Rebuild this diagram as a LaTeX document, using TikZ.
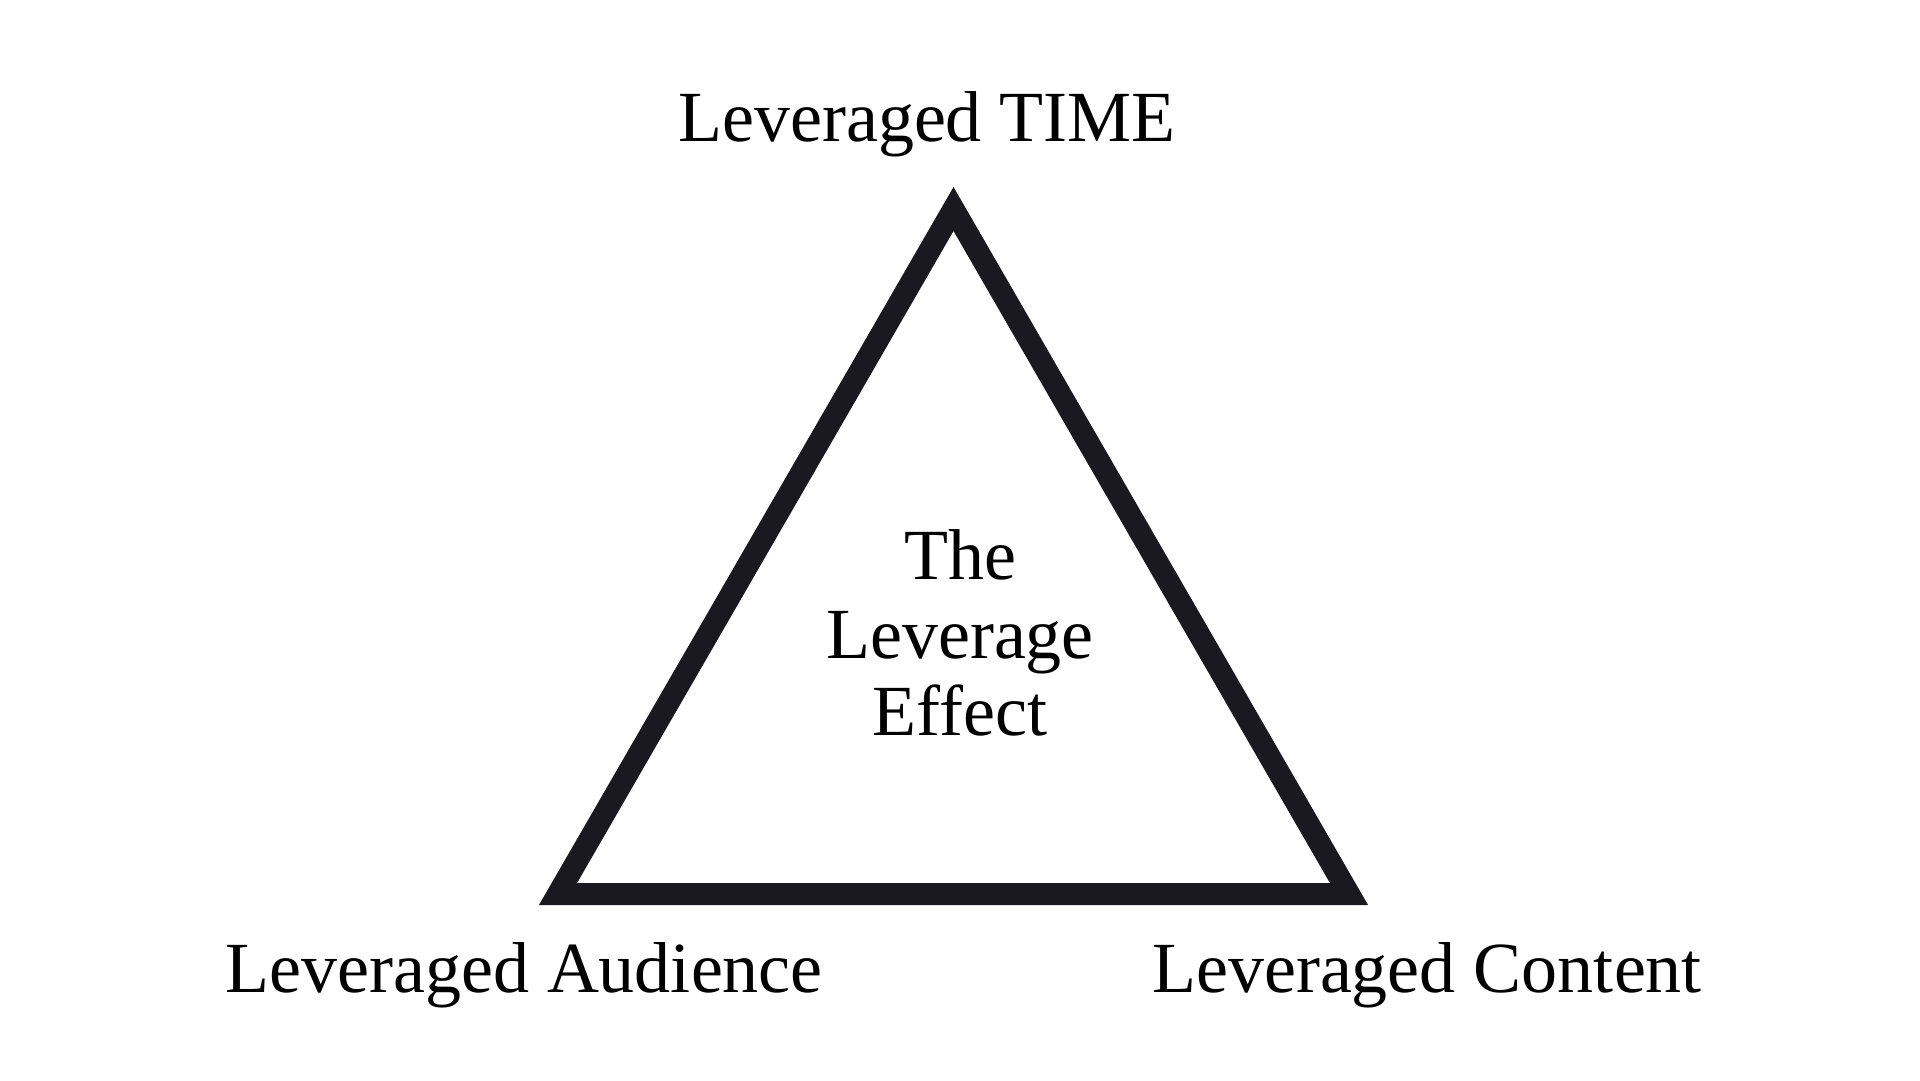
\documentclass[tikz,border=0pt]{standalone}
\usepackage{fontspec}
\setmainfont{Liberation Serif}
\definecolor{triink}{RGB}{26,24,32}
\begin{document}
\begin{tikzpicture}[x=1pt,y=-1pt,
  lbl/.style={font=\fontsize{72}{77}\selectfont, inner sep=0pt, anchor=base, text=black},
  tri/.style={draw=triink, line width=22pt, line join=miter}]
\useasboundingbox (0,0) rectangle (1920,1080);
\fill[white] (0,0) rectangle (1920,1080);
\coordinate (A) at (953.5,209);
\coordinate (B) at (558,894);
\coordinate (C) at (1349,894);
\draw[tri] (A) -- (B) -- (C) -- cycle;
\node[lbl] (top) at (927,141) {Leveraged TIME};
\node[lbl] (left) at (524,992) {Leveraged Audience};
\node[lbl] (right) at (1427,992) {Leveraged Content};
\node[lbl] (c1) at (960,579) {The};
\node[lbl] (c2) at (960,658) {Leverage};
\node[lbl] (c3) at (960,735) {Effect};
\end{tikzpicture}
\end{document}
